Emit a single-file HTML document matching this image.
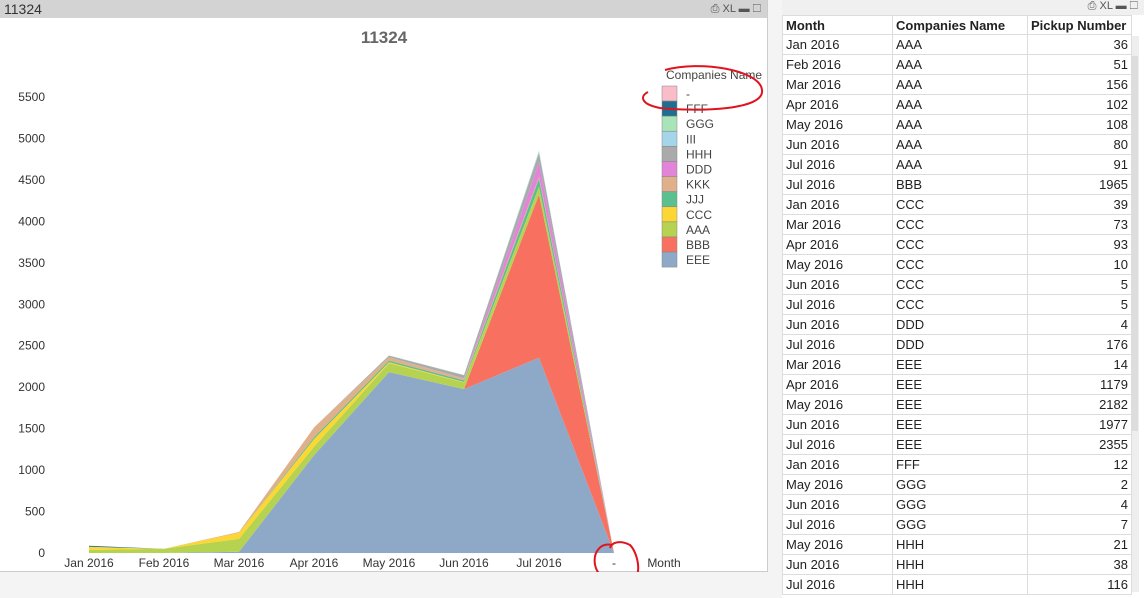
<!DOCTYPE html>
<html><head><meta charset="utf-8"><style>
body{margin:0;width:1144px;height:598px;background:#f4f4f4;position:relative;overflow:hidden;font-family:"Liberation Sans",sans-serif}
#cp{position:absolute;left:0;top:0;width:767px;height:571px;background:#fff;border-right:1px solid #ccc;border-bottom:1px solid #ccc}
#cap{position:absolute;left:0;top:0;width:767px;height:18px;background:#d3d3d3;font-size:14px;color:#333;line-height:18px;text-indent:4px}
#tp{position:absolute;left:782px;top:0;width:362px;height:598px;background:#fff}
#tcap{position:absolute;left:782px;top:0;width:362px;height:15px;background:#f0f0f0}
#sb{position:absolute;left:1131px;top:36px;width:8px;height:556px;background:#eee}
#sb div{position:absolute;left:1px;top:20px;width:6px;height:375px;background:#ddd}
table{position:absolute;left:782px;top:15px;border-collapse:collapse;font-size:13px;color:#222;table-layout:fixed;width:349px}
td{height:19px;padding:0 3px;border:1px solid #ddd;white-space:nowrap;overflow:hidden}
th{height:18px;padding:0 3px;border:1px solid #ddd;text-align:left;font-size:13px;white-space:nowrap;overflow:hidden}
.n{text-align:right}
</style></head><body>
<div id="cp"></div>
<div id="cap">11324<span style="position:absolute;right:6px;font-size:11px;color:#555">⎙ XL ▬ ☐</span></div>
<div id="tp"></div>
<div id="tcap"><span style="position:absolute;right:6px;font-size:11px;color:#555">⎙ XL ▬ ☐</span></div>
<div id="sb"><div></div></div>
<svg width="768" height="572" style="position:absolute;left:0;top:0" font-family="Liberation Sans, sans-serif">
<text x="384" y="43" font-size="17" font-weight="bold" fill="#666" text-anchor="middle">11324</text>
<g id="ar"></g>
<g font-size="12" fill="#333" text-anchor="end" id="yl"></g>
<g font-size="12" fill="#333" text-anchor="middle">
<text x="89" y="567">Jan 2016</text><text x="164" y="567">Feb 2016</text><text x="239" y="567">Mar 2016</text><text x="314" y="567">Apr 2016</text><text x="389" y="567">May 2016</text><text x="464" y="567">Jun 2016</text><text x="539" y="567">Jul 2016</text><text x="614" y="567">-</text><text x="664" y="567">Month</text></g>
<text x="666" y="79" font-size="12" fill="#444">Companies Name</text>
<g id="lg" font-size="12" fill="#444"></g>
<g fill="none" stroke="#e0141e" stroke-width="2">
<path d="M665 70 C700 60,760 70,762 90 C765 110,700 112,660 108 C640 104,640 96,648 92"/>
<path d="M612 545 C590 540,585 580,620 585 C645 588,640 555,630 545 C620 540,612 542,610 548"/>
</g>
</svg>
<table>
<colgroup><col style="width:110px"><col style="width:135px"><col style="width:104px"></colgroup>
<tr><th>Month</th><th>Companies Name</th><th>Pickup Number</th></tr>
<tbody id="tb"></tbody></table>
<script>
var xs=[89,164,239,314,389,464,539,614];
function Y(v){return 553-v*0.08291;}
var S=[["EEE","#8ea9c8",[0,0,14,1179,2182,1977,2355,0]],["BBB","#f87060",[0,0,0,0,0,0,1965,0]],["AAA","#b5d350",[36,51,156,102,108,80,91,0]],["CCC","#fcd733",[39,0,73,93,10,5,5,0]],["JJJ","#5cbf8f",[0,0,0,20,20,20,100,0]],["KKK","#e0b08a",[0,0,10,120,40,20,20,0]],["DDD","#e285d9",[0,0,0,0,0,4,176,0]],["HHH","#aaaaaa",[0,0,0,0,21,38,116,0]],["III","#a4d5e8",[0,0,0,0,0,0,20,0]],["GGG","#a9e3b8",[0,0,0,0,2,4,7,0]],["FFF","#1e6f8f",[12,0,0,0,0,0,0,0]],["-","#f9bcc8",[0,0,0,0,0,0,0,0]]];
var base=[0,0,0,0,0,0,0,0],h="";
S.forEach(function(s){var top=base.map(function(b,i){return b+s[2][i];});var p=[];
for(var i=0;i<8;i++)p.push(xs[i]+","+Y(top[i]).toFixed(1));for(var i=7;i>=0;i--)p.push(xs[i]+","+Y(base[i]).toFixed(1));
h+='<polygon points="'+p.join(" ")+'" fill="'+s[1]+'"/>';base=top;});
document.getElementById("ar").innerHTML=h;
var yl="";for(var v=0;v<=5500;v+=500)yl+='<text x="45" y="'+(Y(v)+4).toFixed(1)+'">'+v+'</text>';
document.getElementById("yl").innerHTML=yl;
var lg="";S.slice().reverse().forEach(function(s,i){var y=86+i*15.1;lg+='<rect x="662" y="'+y.toFixed(1)+'" width="15" height="15" fill="'+s[1]+'" stroke="#888" stroke-width="0.5"/><text x="686" y="'+(y+12).toFixed(1)+'">'+s[0]+'</text>';});
document.getElementById("lg").innerHTML=lg;
var R=[["Jan 2016","AAA",36],["Feb 2016","AAA",51],["Mar 2016","AAA",156],["Apr 2016","AAA",102],["May 2016","AAA",108],["Jun 2016","AAA",80],["Jul 2016","AAA",91],["Jul 2016","BBB",1965],["Jan 2016","CCC",39],["Mar 2016","CCC",73],["Apr 2016","CCC",93],["May 2016","CCC",10],["Jun 2016","CCC",5],["Jul 2016","CCC",5],["Jun 2016","DDD",4],["Jul 2016","DDD",176],["Mar 2016","EEE",14],["Apr 2016","EEE",1179],["May 2016","EEE",2182],["Jun 2016","EEE",1977],["Jul 2016","EEE",2355],["Jan 2016","FFF",12],["May 2016","GGG",2],["Jun 2016","GGG",4],["Jul 2016","GGG",7],["May 2016","HHH",21],["Jun 2016","HHH",38],["Jul 2016","HHH",116]];
document.getElementById("tb").innerHTML=R.map(function(r){return "<tr><td>"+r[0]+"</td><td>"+r[1]+'</td><td class="n">'+r[2]+"</td></tr>";}).join("");
</script>
</body></html>
